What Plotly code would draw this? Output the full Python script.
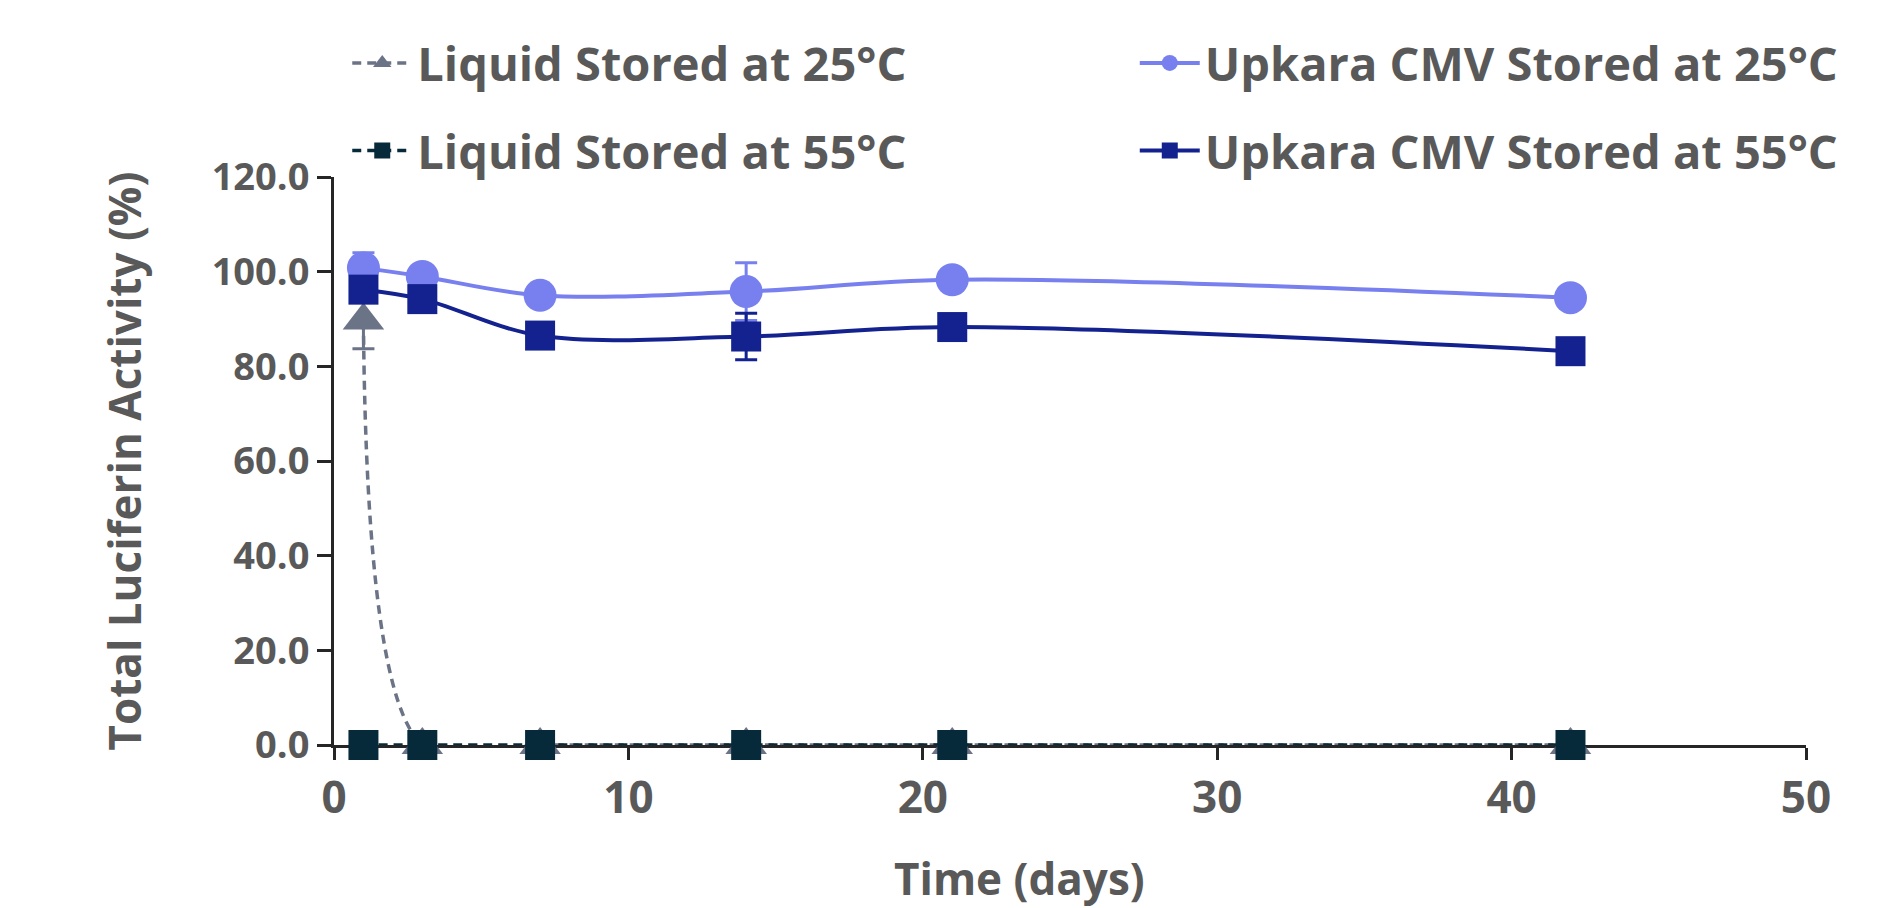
import plotly.graph_objects as go

days = [1, 3, 7, 14, 21, 42]

liquid_25 = [89.7, 0.0, 0.0, 0.0, 0.0, 0.0]
liquid_25_err = [6.0, 0.0, 0.0, 0.0, 0.0, 0.0]
liquid_55 = [0.0, 0.0, 0.0, 0.0, 0.0, 0.0]
upkara_25 = [100.8, 99.0, 95.0, 95.8, 98.3, 94.5]
upkara_25_err = [3.2, 1.0, 1.0, 6.1, 1.0, 1.0]
upkara_55 = [96.2, 94.2, 86.5, 86.3, 88.3, 83.2]
upkara_55_err = [1.0, 1.0, 1.0, 4.9, 1.0, 1.0]

names = ["Liquid Stored at 25°C", "Liquid Stored at 55°C",
         "Upkara CMV Stored at 25°C", "Upkara CMV Stored at 55°C"]

x_ticks = [0, 10, 20, 30, 40, 50]
y_ticks = [0, 20, 40, 60, 80, 100, 120]

c_l25 = "#6B7387"
c_l55 = "#072A3A"
c_u25 = "#7780EE"
c_u55 = "#13228F"
txt = "#595959"
axc = "#262626"

fig = go.Figure()

fig.add_trace(go.Scatter(
    x=days, y=liquid_25, name=names[0], mode="lines+markers",
    line=dict(color=c_l25, width=3.5, dash="9px,6px", shape="spline"),
    marker=dict(symbol="triangle-up", size=36, color=c_l25),
    error_y=dict(type="data", array=liquid_25_err, color=c_l25, thickness=3, width=11),
    cliponaxis=False, legend="legend"))

fig.add_trace(go.Scatter(
    x=days, y=liquid_55, name=names[1], mode="lines+markers",
    line=dict(color=c_l55, width=3.5, dash="9px,6px", shape="spline"),
    marker=dict(symbol="square", size=30, color=c_l55),
    cliponaxis=False, legend="legend3"))

fig.add_trace(go.Scatter(
    x=days, y=upkara_25, name=names[2], mode="lines+markers",
    line=dict(color=c_u25, width=4, shape="spline"),
    marker=dict(symbol="circle", size=33, color=c_u25),
    error_y=dict(type="data", array=upkara_25_err, color=c_u25, thickness=3, width=11),
    cliponaxis=False, legend="legend2"))

fig.add_trace(go.Scatter(
    x=days, y=upkara_55, name=names[3], mode="lines+markers",
    line=dict(color=c_u55, width=4, shape="spline"),
    marker=dict(symbol="square", size=30, color=c_u55),
    error_y=dict(type="data", array=upkara_55_err, color=c_u55, thickness=3, width=11),
    cliponaxis=False, legend="legend4"))

leg_font = dict(family="Open Sans", size=47, color=txt, weight="bold")
def leg(x, y):
    return dict(x=x, y=y, xanchor="left", yanchor="middle", font=leg_font,
                bgcolor="rgba(0,0,0,0)", itemwidth=60)

fig.update_layout(
    width=1885, height=900,
    margin=dict(l=326, r=87, t=169, b=163, autoexpand=False),
    paper_bgcolor="white", plot_bgcolor="white",
    showlegend=True,
    legend=leg(0.009, 1.20),
    legend3=leg(0.009, 1.046),
    legend2=leg(0.544, 1.20),
    legend4=leg(0.544, 1.046),
    xaxis=dict(range=[0, 50], tickvals=x_ticks, showline=True, linecolor=axc, linewidth=3,
               ticks="outside", ticklen=12, tickwidth=3, tickcolor=axc,
               showgrid=False, zeroline=False, layer="below traces",
               tickfont=dict(family="Open Sans", size=44, color=txt, weight="bold")),
    yaxis=dict(range=[0, 120], tickvals=y_ticks, tickformat=".1f", showline=True,
               linecolor=axc, linewidth=3, ticks="outside", ticklen=14, tickwidth=3,
               tickcolor=axc, showgrid=False, zeroline=False, layer="below traces",
               tickfont=dict(family="Open Sans", size=38, color=txt, weight="bold")),
    annotations=[
        dict(text="Time (days)", x=0.466, y=(737 - 870) / 568, xref="paper", yref="paper",
             showarrow=False, font=dict(family="Open Sans", size=44, color=txt, weight="bold"),
             xanchor="center", yanchor="middle"),
        dict(text="Total Luciferin Activity (%)", x=-0.143, y=0.5, xref="paper", yref="paper",
             textangle=-90, showarrow=False,
             font=dict(family="Open Sans", size=44, color=txt, weight="bold"),
             xanchor="center", yanchor="middle"),
    ],
)

fig.write_html("out.html")
